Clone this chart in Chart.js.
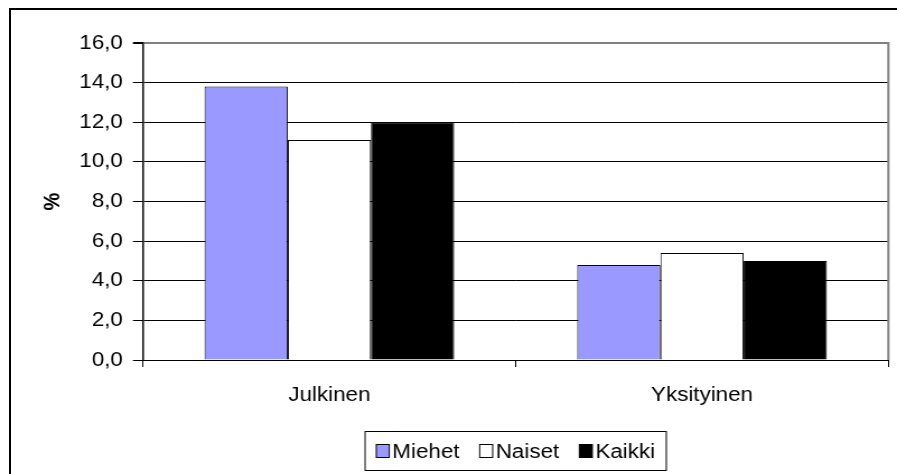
<!DOCTYPE html>
<html>
<head>
<meta charset="utf-8">
<script src="https://cdn.jsdelivr.net/npm/chart.js@4.4.0/dist/chart.umd.min.js"></script>
<style>
  html, body { margin: 0; padding: 0; overflow: hidden; background: #fff; }
  #frame { position: absolute; left: 9px; top: 8px; width: 1000px; height: 1000px; border: 2px solid #000; }
  #chart { position: absolute; left: 0; top: 0; }
</style>
</head>
<body>
<div id="frame"></div>
<!-- canvas is drawn narrower and stretched, the original picture has wide text -->
<canvas id="chart" width="801" height="474" style="width:897px;height:474px"></canvas>
<script>
const categories = ['Julkinen', 'Yksityinen'];
const seriesNames = ['Miehet', 'Naiset', 'Kaikki'];
const miehet = [13.8, 4.8];
const naiset = [11.1, 5.4];
const kaikki = [12.0, 5.0];
const yTicks = [0, 2, 4, 6, 8, 10, 12, 14, 16];

const FONT = 'Arial, "Liberation Sans", sans-serif';
Chart.defaults.font.family = FONT;
Chart.defaults.font.size = 20;
Chart.defaults.color = '#000';

// gray right edge of the plot area
const plotEdge = {
  id: 'plotEdge',
  afterDraw(chart) {
    const a = chart.chartArea;
    const ctx = chart.ctx;
    ctx.save();
    ctx.strokeStyle = '#808080';
    ctx.lineWidth = 2;
    ctx.beginPath();
    ctx.moveTo(a.right, a.top - 1);
    ctx.lineTo(a.right, a.bottom);
    ctx.stroke();
    ctx.restore();
  }
};

// legend in a box, square right next to the text
const boxLegend = {
  id: 'boxLegend',
  afterDraw(chart) {
    const ctx = chart.ctx;
    const sets = chart.data.datasets;
    const sq = 11.6, gap = 2.7, space = 18, pad = 10;
    ctx.save();
    ctx.font = '20px ' + FONT;
    const widths = sets.map((d) => ctx.measureText(d.label).width);
    let total = 0;
    widths.forEach((w, i) => { total += sq + gap + w + (i ? space : 0); });
    const cx = (chart.chartArea.left + chart.chartArea.right) / 2;
    const cy = chart.height - 23;
    let x = cx - total / 2;

    ctx.strokeStyle = '#000';
    ctx.lineWidth = 1;
    ctx.strokeRect(x - pad, cy - 19.5, total + 2 * pad, 39);

    ctx.textBaseline = 'middle';
    ctx.textAlign = 'left';
    sets.forEach((d, i) => {
      ctx.fillStyle = d.backgroundColor;
      ctx.fillRect(x, cy - 6.5, sq, 13);
      ctx.strokeRect(x, cy - 6.5, sq, 13);
      ctx.fillStyle = '#000';
      ctx.fillText(d.label, x + sq + gap, cy + 1);
      x += sq + gap + widths[i] + space;
    });
    ctx.restore();
  }
};

var options = {
  responsive: false,
  animation: false,
  layout: {
    padding: { left: 10, top: 43, right: 7.7, bottom: 64 },
  },
  plugins: {
    legend: { display: false },
    tooltip: { enabled: false },
  },
  scales: {
    x: {
      grid: {
        offset: true,
        drawOnChartArea: false,
        tickLength: 7,
        color: '#000',
      },
      border: { color: '#000', width: 1 },
      ticks: { padding: 16, maxRotation: 0 },
      afterFit: (s) => { s.height = 50; },
    },
    y: {
      min: 0,
      max: 16,
      afterBuildTicks: (s) => { s.ticks = yTicks.map((v) => ({ value: v })); },
      ticks: {
        padding: 9,
        callback: (v) => v.toFixed(1).replace('.', ','),
      },
      grid: {
        color: (c) => (c.tick && c.tick.value === 16 ? '#808080' : '#000'),
        lineWidth: (c) => (c.tick && c.tick.value === 16 ? 2 : 1),
        tickColor: '#000',
        tickLength: 9,
      },
      border: { color: '#000', width: 1.5 },
      title: {
        display: true,
        text: '%',
        font: { size: 20, weight: 'bold' },
        padding: { top: 25, bottom: 0 },
      },
      afterFit: (s) => { s.width = 117.7; },
    },
  },
};

new Chart('chart', {
  type: 'bar',
  options: options,
  plugins: [plotEdge, boxLegend],
  data: {
    labels: categories,
    datasets: [
      {
        label: seriesNames[0],
        data: miehet,
        backgroundColor: '#9999ff',
      },
      {
        label: seriesNames[1],
        data: naiset,
        backgroundColor: '#ffffff',
      },
      {
        label: seriesNames[2],
        data: kaikki,
        backgroundColor: '#000000',
      },
    ].map((d) => Object.assign(d, {
      borderColor: '#000',
      borderWidth: 1,
      categoryPercentage: 0.67,
      barPercentage: 1.0,
    })),
  },
});
</script>
</body>
</html>
